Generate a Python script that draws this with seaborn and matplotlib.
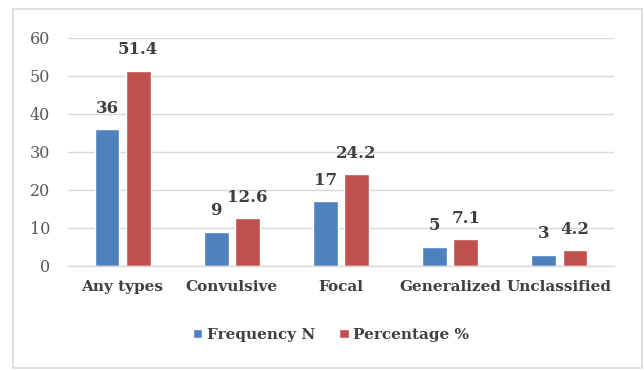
import matplotlib
matplotlib.use("Agg")
import matplotlib.pyplot as plt
import seaborn as sns
import pandas as pd
from matplotlib.patches import Rectangle

categories = ["Any types", "Convulsive", "Focal", "Generalized", "Unclassified"]
frequency = [36, 9, 17, 5, 3]
percentage = [51.4, 12.6, 24.2, 7.1, 4.2]
freq_labels = ["36", "9", "17", "5", "3"]
pct_labels = ["51.4", "12.6", "24.2", "7.1", "4.2"]
series_names = ["Frequency N", "Percentage %"]
yticks = [0, 10, 20, 30, 40, 50, 60]

sns.set_theme(style="white")
plt.rcParams['font.family'] = ['DejaVu Serif']

df = pd.DataFrame({
    "cat": categories * 2,
    "val": frequency + percentage,
    "series": [series_names[0]] * 5 + [series_names[1]] * 5,
})

fig = plt.figure(figsize=(6.44, 3.70), dpi=100)
ax = fig.add_axes([68/644, 1 - 266/370, (614-68)/644, (266-38)/370])

sns.barplot(data=df, x="cat", y="val", hue="series", ax=ax,
            palette=["#4F81BD", "#C0504D"], width=0.57, gap=0.2,
            saturation=1, legend=True)

for cont, labs in zip(ax.containers, [freq_labels, pct_labels]):
    ax.bar_label(cont, labels=labs, padding=9, fontsize=12, fontweight="bold",
                 color="#404040")

ax.set_ylim(0, 60)
ax.set_xlim(-0.5, 4.5)
ax.set_yticks(yticks)
ax.set_yticklabels([str(t) for t in yticks], fontsize=11.5, color="#595959")
ax.set_xticks(range(len(categories)))
ax.set_xticklabels(categories, fontsize=11, fontweight="bold", color="#404040")
ax.tick_params(axis="both", length=0)
ax.tick_params(axis="y", pad=13)
ax.tick_params(axis="x", pad=10)
ax.set_xlabel("")
ax.set_ylabel("")
ax.yaxis.grid(True, color="#D9D9D9", linewidth=1)
ax.set_axisbelow(True)
for s in ["left", "right", "top"]:
    ax.spines[s].set_visible(False)
ax.spines["bottom"].set_color("#D9D9D9")
ax.spines["bottom"].set_linewidth(1)

handles, labels = ax.get_legend_handles_labels()
leg = ax.legend(handles, labels, loc="center", bbox_to_anchor=(331/644, 1 - 335/370),
                bbox_transform=fig.transFigure, ncol=2, frameon=False,
                handlelength=0.6, handleheight=0.6, handletextpad=0.3,
                columnspacing=1.6, prop={"weight": "bold", "size": 11})
for t in leg.get_texts():
    t.set_color("#404040")

fig.patches.append(Rectangle((13/644, 2/370), (643-13)/644 - 0.001, (368-9)/370,
                             transform=fig.transFigure, fill=False,
                             edgecolor="#D9D9D9", linewidth=1.2))

fig.savefig("out.png", dpi=100)
